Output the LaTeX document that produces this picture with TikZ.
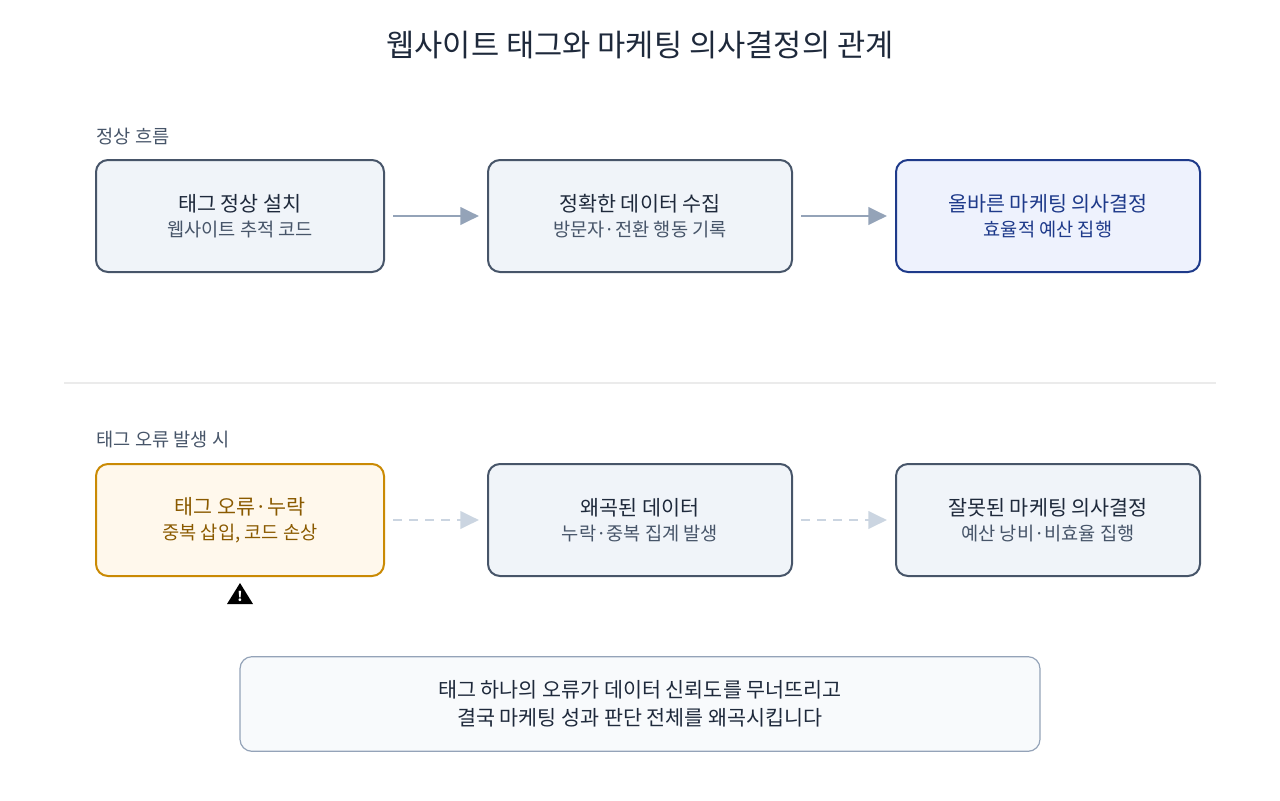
\documentclass[tikz,border=0pt]{standalone}
\usepackage{fontspec}
\setmainfont{Noto Sans CJK KR}
\usetikzlibrary{arrows.meta}
\definecolor{edge}{HTML}{475569}
\definecolor{boxfill}{HTML}{F0F4F9}
\definecolor{ink}{HTML}{1E293B}
\definecolor{subink}{HTML}{475569}
\definecolor{navy}{HTML}{1E3A8A}
\definecolor{navyfill}{HTML}{EEF2FD}
\definecolor{amber}{HTML}{CA8A04}
\definecolor{amberfill}{HTML}{FFF8EC}
\definecolor{amberink}{HTML}{8A5A00}
\definecolor{okarrow}{HTML}{94A3B8}
\definecolor{badarrow}{HTML}{CBD5E1}
\definecolor{notefill}{HTML}{F8FAFC}
\tikzset{
  stage/.style={draw=edge,line width=1.5pt,fill=boxfill,rounded corners=9pt,
    minimum width=228pt,minimum height=84pt,align=center,text=ink},
  good/.style={stage,draw=navy,fill=navyfill,text=navy},
  bad/.style={stage,draw=amber,fill=amberfill,text=amberink,minimum width=216pt},
  flow/.style={-{Triangle[length=14pt,width=13pt]},line width=2.2pt,okarrow,
    shorten <=6pt,shorten >=6pt},
  broken/.style={flow,badarrow,dash pattern=on 7pt off 5pt},
  section/.style={anchor=west,text=subink,font=\fontsize{14}{17}\selectfont}
}
\newcommand{\twoline}[2]{{\fontsize{15.5}{18}\selectfont #1}\\[5pt]{\fontsize{14}{17}\selectfont #2}}
\begin{document}
\begin{tikzpicture}[x=0.75pt,y=-0.75pt]
  \useasboundingbox (0,0) rectangle (1280,800);
  \node[font=\fontsize{23}{27}\selectfont,text=ink] (title) at (640,45) {웹사이트 태그와 마케팅 의사결정의 관계};
  % normal flow
  \node[section] (sec1) at (92,136) {정상 흐름};
  \node[stage,minimum width=216pt] (install) at (240,216) {\twoline{태그 정상 설치}{\textcolor{subink}{웹사이트 추적 코드}}};
  \node[stage] (collect) at (640,216) {\twoline{정확한 데이터 수집}{\textcolor{subink}{방문자·전환 행동 기록}}};
  \node[good] (decide) at (1048,216) {\twoline{올바른 마케팅 의사결정}{효율적 예산 집행}};
  \draw[flow] (install) -- (collect);
  \draw[flow] (collect) -- (decide);
  %
  \draw[draw=black!8,line width=1pt] (64,383) coordinate (divl) -- (1216,383) coordinate (divr);
  % error flow
  \node[section] (sec2) at (92,440) {태그 오류 발생 시};
  \node[bad] (error) at (240,520) {\twoline{태그 오류·누락}{중복 삽입, 코드 손상}};
  \node[stage] (distort) at (640,520) {\twoline{왜곡된 데이터}{\textcolor{subink}{누락·중복 집계 발생}}};
  \node[stage] (wrong) at (1048,520) {\twoline{잘못된 마케팅 의사결정}{\textcolor{subink}{예산 낭비·비효율 집행}}};
  \draw[broken] (error) -- (distort);
  \draw[broken] (distort) -- (wrong);
  \fill[black] (227,604) coordinate (wa) -- (240,583) coordinate (wb) -- (253,604) coordinate (wc) -- cycle;
  \node[text=white,font=\bfseries\fontsize{10}{10}\selectfont,inner sep=0pt] (warn) at (240,596) {!};
  %
  \node[draw=okarrow,line width=0.9pt,fill=notefill,rounded corners=9pt,
    minimum width=600pt,minimum height=71pt,align=center,text=ink] (summary) at (640,704)
    {{\fontsize{15.5}{18}\selectfont 태그 하나의 오류가 데이터 신뢰도를 무너뜨리고}\\[6pt]{\fontsize{15.5}{18}\selectfont 결국 마케팅 성과 판단 전체를 왜곡시킵니다}};
\end{tikzpicture}
\end{document}
